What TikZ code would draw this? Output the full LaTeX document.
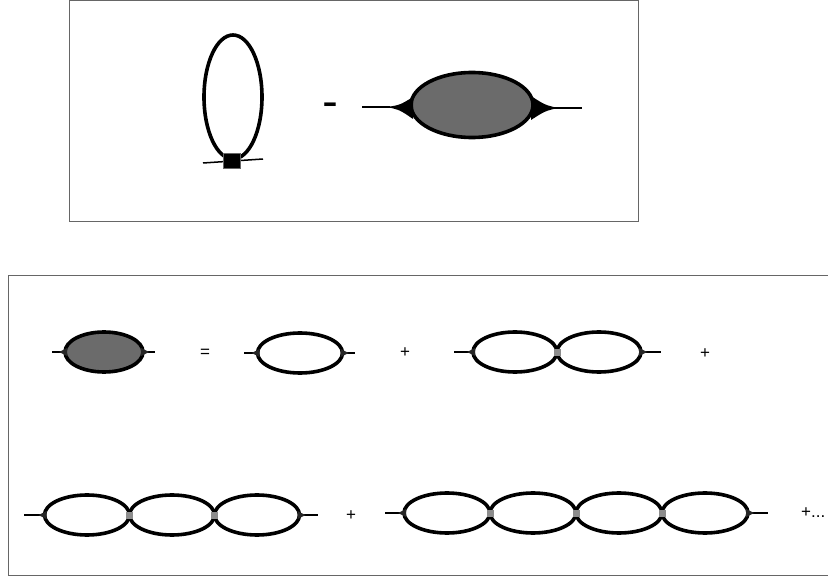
\documentclass[tikz,border=0pt]{standalone}
\usepackage{fontspec}
\setmainfont{Liberation Sans}
\usetikzlibrary{shapes.geometric, positioning}

\begin{document}
\begin{tikzpicture}[x=1pt, y=-1pt,
    frame/.style={draw=black!60, line width=1pt},
    bubble/.style={ellipse, draw, line width=3.6pt, inner sep=0pt, outer sep=0pt,
        minimum width=85pt, minimum height=40pt},
    blob/.style={bubble, fill=black!58},
    vert/.style={rectangle, fill=black!45, inner sep=0pt, minimum size=7pt},
    leg/.style={line width=1.5pt},
    tip/.style={fill=black!85},
    sign/.style={font=\fontsize{17}{19}\selectfont, inner sep=0pt}]
\useasboundingbox (0,0) rectangle (828,580);

% frames
\draw[frame] (69.5,0.5) rectangle (638,222);
\draw[frame] (8,276) rectangle (836,575);

% top: tadpole loop minus sunset blob
\node[bubble, minimum width=58pt, minimum height=124pt] (tad) at (233,97) {};
\coordinate (tl) at (203,163);
\coordinate (tr) at (263,159);
\draw[leg] (tl) -- (tr);
\node[rectangle, fill=black, draw=black!60, inner sep=0pt, minimum width=17pt, minimum height=15pt] (sq) at (232,161) {};
\node[font=\fontsize{30}{30}\bfseries\selectfont, inner sep=0pt] (minus) at (330,108) {\scalebox{1.5}[1]{-}};
\node[blob, minimum width=122pt, minimum height=65pt] (big) at (472,105) {};
\coordinate (bl) at (362,107);
\coordinate (br) at (582,108);
\draw[leg] (bl) -- (390,107);
\draw[leg] (555,108) -- (br);
\fill (387,107) .. controls (400,105) .. (413,97) -- (413,119) .. controls (400,110) .. (387,107) -- cycle;
\fill (558,108) .. controls (545,105) .. (531,96) -- (531,120) .. controls (545,111) .. (558,108) -- cycle;

% row 1
\node[blob, minimum width=78pt] (g1) at (104,352) {};
\coordinate (g1l) at (52,352);
\coordinate (g1r) at (155,352);
\node[sign] (eq) at (205,353) {=};
\node[bubble] (a1) at (300,353) {};
\coordinate (a1l) at (244,353);
\coordinate (a1r) at (355,353);
\node[sign] (p1) at (405,353) {+};
\node[bubble, minimum width=84pt] (b1) at (515,352) {};
\node[bubble, minimum width=84pt, right=0pt of b1] (b2) {};
\coordinate (b1l) at (454,352);
\coordinate (b2r) at (661,352);
\node[vert] (bv1) at (b1.east) {};
\node[sign] (p2) at (705,354) {+};

% row 2
\node[bubble] (c1) at (87,515) {};
\node[bubble, right=0pt of c1] (c2) {};
\node[bubble, right=0pt of c2] (c3) {};
\coordinate (c1l) at (24,515);
\coordinate (c3r) at (318,515);
\node[vert] (cv1) at (c1.east) {};
\node[vert] (cv2) at (c2.east) {};
\node[sign] (p3) at (351,516) {+};
\node[bubble, minimum width=86pt] (d1) at (447,513) {};
\node[bubble, minimum width=86pt, right=0pt of d1] (d2) {};
\node[bubble, minimum width=86pt, right=0pt of d2] (d3) {};
\node[bubble, minimum width=86pt, right=0pt of d3] (d4) {};
\coordinate (d1l) at (385,513);
\coordinate (d4r) at (768,513);
\node[vert] (dv1) at (d1.east) {};
\node[vert] (dv2) at (d2.east) {};
\node[vert] (dv3) at (d3.east) {};
\node[sign, anchor=west] (p4) at (801,513) {+...};

% legs and tips
\draw[leg] (g1l) -- (g1.west);
\draw[leg] (g1.east) -- (g1r);
\draw[leg] (a1l) -- (a1.west);
\draw[leg] (a1.east) -- (a1r);
\draw[leg] (b1l) -- (b1.west);
\draw[leg] (b2.east) -- (b2r);
\draw[leg] (c1l) -- (c1.west);
\draw[leg] (c3.east) -- (c3r);
\draw[leg] (d1l) -- (d1.west);
\draw[leg] (d4.east) -- (d4r);
\foreach \e in {g1, a1, b1, c1, d1}
  \fill[tip] (\e.west) ++(-6,0) -- ++(8,-4) -- ++(0,8) -- cycle;
\foreach \e in {g1, a1, b2, c3, d4}
  \fill[tip] (\e.east) ++(6,0) -- ++(-8,-4) -- ++(0,8) -- cycle;
\end{tikzpicture}
\end{document}
